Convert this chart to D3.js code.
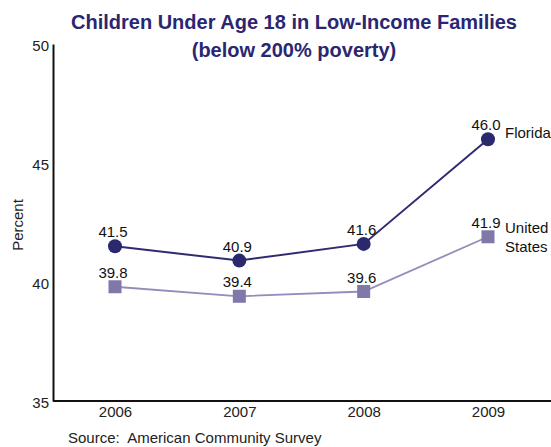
<!DOCTYPE html>
<html>
<head>
<meta charset="utf-8">
<script src="https://cdn.jsdelivr.net/npm/d3@7"></script>
<style>
  body { margin: 0; background: #fff; }
  svg { display: block; font-family: Arial, "Liberation Sans", sans-serif; }
</style>
</head>
<body>
<svg id="chart" width="551" height="447"></svg>
<script>
// data
const years = ['2006', '2007', '2008', '2009']
const florida = [41.5, 40.9, 41.6, 46.0]
const unitedStates = [39.8, 39.4, 39.6, 41.9]
const yTicks = [35, 40, 45, 50]

const svg = d3.select('#chart')
const width = 551
const height = 447

// plot area
const plotLeft = 53, plotTop = 44, plotBottom = 401

const x = d3.scalePoint()
  .domain(years)
  .range([115, 488])

const y = d3.scaleLinear()
  .domain([35, 50])
  .range([plotBottom, plotTop])

// title
const title = svg.append('text')
  .attr('text-anchor', 'middle')
  .attr('font-weight', 'bold')
  .attr('font-size', '20px')
  .attr('fill', '#2b2670')
title.append('tspan').attr('x', 294).attr('y', 29).text('Children Under Age 18 in Low-Income Families')
title.append('tspan').attr('x', 294).attr('y', 57).text('(below 200% poverty)')

// y axis
const yAxis = svg.append('g')
  .attr('transform', `translate(${plotLeft},0)`)
  .call(d3.axisLeft(y).tickValues(yTicks).tickSize(0).tickPadding(4))
yAxis.select('.domain').attr('stroke', '#111').attr('stroke-width', 2)
yAxis.selectAll('text')
  .attr('font-size', '15px')
  .attr('fill', '#222')
  .attr('font-family', 'Arial, "Liberation Sans", sans-serif')
  .attr('dy', '0.45em')

// x axis
const xAxis = svg.append('g')
  .attr('transform', `translate(0,${plotBottom})`)
  .call(d3.axisBottom(x).tickSize(0).tickPadding(5))
xAxis.select('.domain')
  .attr('d', `M${plotLeft},0H${width + 2}`)
  .attr('stroke', '#111').attr('stroke-width', 2)
xAxis.selectAll('text')
  .attr('font-size', '15px')
  .attr('fill', '#222')
  .attr('font-family', 'Arial, "Liberation Sans", sans-serif')

// y axis label
svg.append('text')
  .attr('transform', 'translate(23,225) rotate(-90)')
  .attr('text-anchor', 'middle')
  .attr('font-size', '15px')
  .attr('fill', '#222')
  .text('Percent')

// source
svg.append('text')
  .attr('x', 68)
  .attr('y', 443)
  .attr('font-size', '15px')
  .attr('fill', '#222')
  .style('white-space', 'pre')
  .text('Source:  American Community Survey')

const line = d3.line()
  .x((d, i) => x(years[i]))
  .y(d => y(d))

// United States series
svg.append('path')
  .datum(unitedStates)
  .attr('d', line)
  .attr('fill', 'none')
  .attr('stroke', '#928dbd')
  .attr('stroke-width', 1.8)

svg.selectAll('rect.us')
  .data(unitedStates)
  .enter()
  .append('rect')
  .attr('class', 'us')
  .attr('x', (d, i) => x(years[i]) - 6.5)
  .attr('y', d => y(d) - 6.5)
  .attr('width', 13)
  .attr('height', 13)
  .attr('fill', '#7f79aa')

// Florida series
svg.append('path')
  .datum(florida)
  .attr('d', line)
  .attr('fill', 'none')
  .attr('stroke', '#2e2b72')
  .attr('stroke-width', 2)

svg.selectAll('circle.fl')
  .data(florida)
  .enter()
  .append('circle')
  .attr('class', 'fl')
  .attr('cx', (d, i) => x(years[i]))
  .attr('cy', d => y(d))
  .attr('r', 7)
  .attr('fill', '#2a296e')

// value labels
const labels = [
  { values: florida },
  { values: unitedStates }
]
labels.forEach(s => {
  svg.append('g')
    .selectAll('text')
    .data(s.values)
    .enter()
    .append('text')
    .attr('x', (d, i) => x(years[i]) - 2)
    .attr('y', d => y(d) - 9)
    .attr('text-anchor', 'middle')
    .attr('font-size', '15px')
    .attr('fill', '#111')
    .text(d => d.toFixed(1))
})

// series names
svg.append('text')
  .attr('x', 505)
  .attr('y', y(46.0) - 1)
  .attr('font-size', '15px')
  .attr('fill', '#111')
  .text('Florida')

const usName = svg.append('text')
  .attr('font-size', '15px')
  .attr('fill', '#111')
usName.append('tspan').attr('x', 505).attr('y', y(41.9) - 4).text('United')
usName.append('tspan').attr('x', 505).attr('y', y(41.9) + 15).text('States')
</script>
</body>
</html>
